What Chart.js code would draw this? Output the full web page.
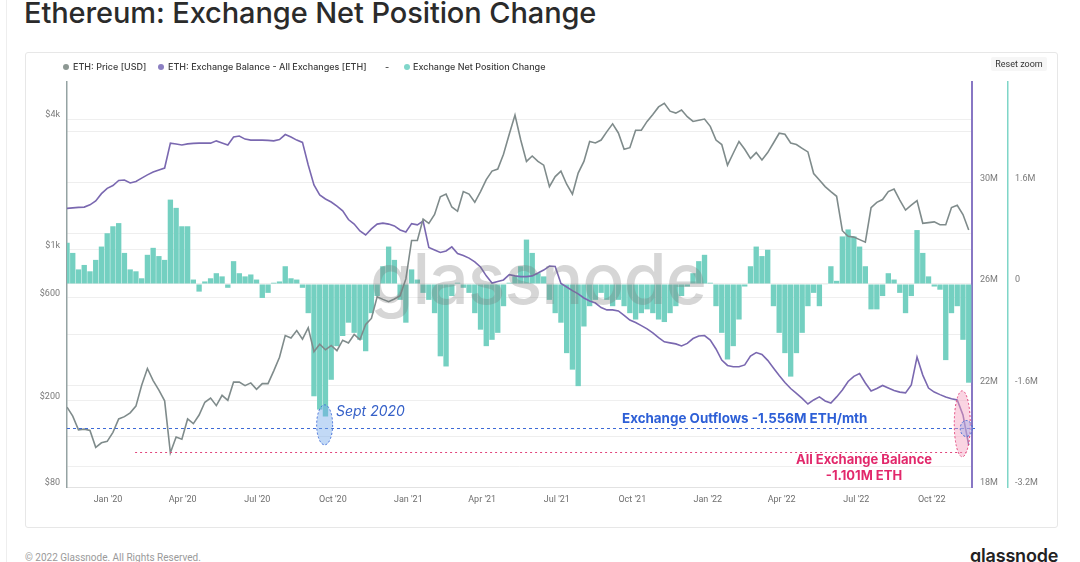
<!DOCTYPE html>
<html>
<head>
<meta charset="utf-8">
<script src="https://cdn.jsdelivr.net/npm/chart.js@4.4.0/dist/chart.umd.min.js"></script>
<style>
  html, body { margin:0; padding:0; background:#fff; width:1080px; height:562px; overflow:hidden; font-family: Inter, Roboto, "Noto Sans", sans-serif; }
  .abs { position:absolute; white-space:nowrap; }
  #pageLine { position:absolute; left:6px; top:0; width:1px; height:562px; background:#eeeeee; }
  #title { left:24px; top:-5px; font-size:29px; font-weight:500; color:#2b2b2b; letter-spacing:-0.1px; }
  #card { position:absolute; left:25px; top:52px; width:1031px; height:474px; border:1px solid #e7e7e7; border-radius:3px; box-sizing:content-box; }
  #chartWrap { position:absolute; left:25px; top:52px; width:1032px; height:475px; }
  .legText { font-size:9px; font-weight:500; color:#3d3d3d; line-height:12px; top:61px; }
  .dot { position:absolute; width:6px; height:6px; border-radius:50%; top:64px; }
  #reset { left:991px; top:57px; width:56px; height:14px; background:#f6f6f6; border-radius:2px; font-size:9px; color:#333; line-height:14px; text-align:center; font-family:Roboto, sans-serif; }
  #watermark { left:538px; top:234px; transform:translateX(-50%); font-size:70px; font-weight:500; color:rgba(120,120,120,0.3); letter-spacing:-1px; line-height:90px; pointer-events:none; }
  .ann { line-height:1; }
  #sept { left:336px; top:404px; font-size:14px; font-style:italic; color:#3560c8; }
  #outflow { left:622px; top:412px; font-size:13.4px; font-weight:700; color:#2d5fd6; }
  #bal1 { left:864px; top:453px; transform:translateX(-50%); font-size:13px; font-weight:700; color:#e2286b; }
  #bal2 { left:864px; top:469px; transform:translateX(-50%); font-size:13px; font-weight:700; color:#e2286b; }
  #footer { left:25px; top:552px; font-size:10px; color:#9a9a9a; font-family:Roboto, sans-serif; }
  #logo { left:970px; top:545px; font-size:18px; font-weight:600; color:#222; letter-spacing:-0.2px; }
</style>
</head>
<body>
<div id="pageLine"></div>
<div id="title" class="abs">Ethereum: Exchange Net Position Change</div>
<div id="card"></div>
<div id="chartWrap"><canvas id="c"></canvas></div>

<div class="dot" style="left:63px;background:#8d9893;"></div>
<div class="abs legText" style="left:73px;">ETH: Price [USD]</div>
<div class="dot" style="left:158px;background:#8b7fc2;"></div>
<div class="abs legText" style="left:168px;">ETH: Exchange Balance - All Exchanges [ETH]</div>
<div class="abs legText" style="left:385px;">-</div>
<div class="dot" style="left:404px;background:#80d6ca;"></div>
<div class="abs legText" style="left:413px;">Exchange Net Position Change</div>
<div id="reset" class="abs">Reset zoom</div>

<div id="watermark" class="abs">glassnode</div>
<div id="sept" class="abs ann">Sept 2020</div>
<div id="outflow" class="abs ann">Exchange Outflows -1.556M ETH/mth</div>
<div id="bal1" class="abs ann">All Exchange Balance</div>
<div id="bal2" class="abs ann">-1.101M ETH</div>

<div id="footer" class="abs">© 2022 Glassnode. All Rights Reserved.</div>
<div id="logo" class="abs">glassnode</div>

<script>
// ---------------- DATA (weekly, starting 2019-11-12) ----------------
const firstWeek = '2019-11-12';

const priceUSD = [
  187,170,147,148,146,122,128,130,
  143,165,169,176,189,236,282,248,224,200,115,136,133,165,157,172,197,206,190,212,201,244,244,235,242,226,
  240,240,275,318,400,390,422,385,435,337,365,344,360,341,381,370,405,383,450,480,604,588,574,590,611,731,
  1100,1100,1380,1320,1450,1750,1800,1570,1500,1850,1800,1650,1850,2100,2300,2350,2750,3400,4170,3200,2550,2700,2550,2450,1950,2170,
  2300,2000,1800,2250,2550,3150,3100,3200,3500,3800,3450,2900,2950,3550,3550,3900,4200,4550,4730,4350,4260,4400,4100,3900,3950,4000,
  3700,3200,3050,2450,2780,3150,2900,2630,2800,2590,2800,3100,3440,3400,3100,3050,2930,2820,2240,2090,1950,1850,1760,1220,1150,1140,
  1110,1080,1560,1650,1700,1850,1900,1690,1520,1600,1680,1320,1330,1340,1300,1300,1560,1600,1450,1230
];

const exchangeBalanceM = [
  28.98,29.00,29.02,29.03,29.12,29.27,29.56,29.77,29.88,30.08,30.10,29.98,30.04,30.17,30.30,30.41,30.49,30.57,
  31.55,31.52,31.48,31.52,31.54,31.55,31.55,31.55,31.64,31.56,31.48,31.79,31.83,31.71,31.67,31.67,31.67,31.66,31.64,31.69,31.89,31.79,31.67,31.58,
  30.69,29.90,29.51,29.35,29.23,29.07,28.88,28.54,28.36,28.09,27.93,28.17,28.36,28.40,28.36,28.29,28.13,28.05,28.38,28.33,28.48,
  27.44,27.34,27.24,27.30,27.46,27.20,27.12,27.02,26.87,26.67,26.32,26.04,26.10,26.16,26.37,26.32,26.29,26.29,26.32,26.43,26.55,26.71,26.69,
  26.02,25.88,25.74,25.61,25.45,25.33,25.25,25.07,24.98,24.98,24.94,24.76,24.58,24.48,24.36,24.23,24.07,23.89,23.72,23.68,23.64,23.56,23.66,23.85,23.95,23.97,
  23.79,23.44,23.00,22.79,22.74,22.74,22.81,23.16,23.30,23.22,22.99,22.69,22.39,22.12,21.88,21.69,21.49,21.27,21.43,21.55,21.39,21.31,21.55,21.82,
  22.16,22.36,22.47,22.10,21.78,21.88,22.00,21.90,21.80,21.74,21.71,22.02,23.12,22.41,21.90,21.74,21.64,21.55,21.48,21.43,20.84,19.65
];

const netPositionChangeM = [
  0.65,0.49,0.23,0.30,0.20,0.38,0.59,0.80,0.91,0.96,0.49,0.23,0.20,0.09,0.46,0.57,0.44,0.38,1.33,1.20,0.91,0.91,0.07,-0.12,0.04,0.09,
  0.17,0.12,-0.06,0.36,0.17,0.12,0.15,0.07,-0.22,-0.14,0.02,0.04,0.28,0.09,0.07,-0.06,-0.46,-1.77,-1.98,-2.09,-1.51,-0.98,-0.82,-0.61,-0.77,-0.88,-1.06,
  -0.46,-0.19,0.28,0.59,0.38,-0.25,-0.61,0.23,0.07,-0.14,-0.25,-0.46,-1.14,-1.30,-0.19,0.02,-0.06,-0.14,-0.46,-0.72,-0.98,-0.88,-0.77,-0.35,
  0.02,0.12,0.28,0.70,0.49,0.17,0.12,-0.25,-0.46,-0.61,-1.09,-1.35,-1.61,-0.67,-0.35,-0.25,-0.14,-0.25,-0.35,-0.25,-0.35,-0.46,-0.56,-0.46,-0.40,-0.46,-0.56,-0.60,
  -0.46,-0.35,-0.19,-0.04,0.17,0.36,0.46,0.02,-0.35,-0.77,-1.19,-0.98,-0.56,-0.04,0.28,0.59,0.44,0.54,-0.35,-0.77,-1.09,-1.46,-1.09,-0.77,-0.35,-0.14,
  -0.35,-0.01,0.28,0.05,0.75,0.86,0.75,0.59,0.28,-0.40,-0.40,-0.19,0.17,0.07,-0.14,-0.46,-0.19,0.85,0.49,0.12,-0.04,-0.09,-1.2,-0.46,-0.35,-0.88,-1.556
];

const xTickDates = ['2020-01-01','2020-04-01','2020-07-01','2020-10-01','2021-01-01','2021-04-01','2021-07-01','2021-10-01','2022-01-01','2022-04-01','2022-07-01','2022-10-01'];
const xTickLabels = ["Jan '20","Apr '20","Jul '20","Oct '20","Jan '21","Apr '21","Jul '21","Oct '21","Jan '22","Apr '22","Jul '22","Oct '22"];
const priceTicks = [80, 100, 200, 600, 1000, 4000];
const priceTickLabels = ['$80', '', '$200', '$600', '$1k', '$4k'];
const balanceTicks = [18, 22, 26, 30];
const balanceTickLabels = ['18M', '22M', '26M', '30M'];
const netTicks = [-3.2, -2.4, -1.6, -0.8, 0, 0.8, 1.6, 2.4];
const netTickLabels = ['-3.2M', '', '-1.6M', '', '0', '', '1.6M', ''];

// annotation anchors (data units)
const septDate = '2020-09-21', septLevel = -2.22;
const outflowLevel = -2.27;
const balanceLineStart = '2020-02-03', balanceLineLevel = -2.65;
const endDate = '2022-11-12', endLevel = -2.22;

// ---------------- BUILD ----------------
const DAY = 864e5;
const t0 = Date.parse(firstWeek);
const weeks = netPositionChangeM.map((_, i) => t0 + i * 7 * DAY);
const toXY = arr => arr.map((v, i) => ({ x: weeks[i], y: v }));

const tickFont = { family: 'Roboto', size: 9 };
const fixTicks = (vals) => (scale) => { scale.ticks = vals.map(v => ({ value: v })); };

const annot = {
  id: 'annot',
  afterDatasetsDraw(chart) {
    const { ctx, chartArea: a, scales } = chart;
    const x = scales.x, y = scales.yNet;
    ctx.save();
    ctx.lineWidth = 1;
    ctx.setLineDash([3, 3]);
    ctx.strokeStyle = '#3d6ad6';
    const yo = Math.round(y.getPixelForValue(outflowLevel)) + 0.5;
    ctx.beginPath(); ctx.moveTo(a.left, yo); ctx.lineTo(a.right + 3, yo); ctx.stroke();
    ctx.strokeStyle = '#e2457c';
    ctx.setLineDash([2, 3]);
    const yb = Math.round(y.getPixelForValue(balanceLineLevel)) + 0.5;
    ctx.beginPath(); ctx.moveTo(x.getPixelForValue(Date.parse(balanceLineStart)), yb); ctx.lineTo(a.right - 6, yb); ctx.stroke();
    const sx = x.getPixelForValue(Date.parse(septDate)), sy = y.getPixelForValue(septLevel);
    ctx.setLineDash([2, 2]);
    ctx.beginPath(); ctx.ellipse(sx, sy, 8, 20, 0, 0, Math.PI * 2);
    ctx.fillStyle = 'rgba(120,170,235,0.45)'; ctx.fill();
    ctx.strokeStyle = '#3d6ad6'; ctx.stroke();
    const ex = x.getPixelForValue(Date.parse(endDate)), ey = y.getPixelForValue(endLevel);
    ctx.beginPath(); ctx.ellipse(ex - 4, ey - 1, 8, 33, 0, 0, Math.PI * 2);
    ctx.fillStyle = 'rgba(245,160,190,0.45)'; ctx.fill();
    ctx.strokeStyle = '#e2457c'; ctx.stroke();
    ctx.beginPath(); ctx.ellipse(ex, yo, 6, 8, 0, 0, Math.PI * 2);
    ctx.fillStyle = 'rgba(150,170,235,0.4)'; ctx.fill();
    ctx.strokeStyle = '#3d6ad6'; ctx.stroke();
    ctx.restore();
  }
};

new Chart(document.getElementById('c'), {
  type: 'bar',
  data: {
    datasets: [
      { type: 'line', label: 'ETH: Price [USD]', data: toXY(priceUSD), yAxisID: 'yPrice',
        borderColor: '#7f8b8b', borderWidth: 1.6, pointRadius: 0, tension: 0, order: 1 },
      { type: 'line', label: 'ETH: Exchange Balance - All Exchanges [ETH]', data: toXY(exchangeBalanceM), yAxisID: 'yBal',
        borderColor: '#7a68b0', borderWidth: 1.6, pointRadius: 0, tension: 0, order: 2 },
      { type: 'bar', label: 'Exchange Net Position Change', data: toXY(netPositionChangeM), yAxisID: 'yNet',
        backgroundColor: '#74d0c1', borderWidth: 0, barPercentage: 0.93, categoryPercentage: 1, order: 3 }
    ]
  },
  options: {
    responsive: true, maintainAspectRatio: false, animation: false,
    events: [],
    layout: { padding: { top: 30, left: 0, right: 0, bottom: 0 } },
    plugins: { legend: { display: false }, tooltip: { enabled: false } },
    scales: {
      x: {
        type: 'linear', offset: false,
        min: Date.parse('2019-11-12'), max: Date.parse('2022-11-19'),
        afterBuildTicks: fixTicks(xTickDates.map(d => Date.parse(d))),
        afterFit: s => { s.height = 40; },
        grid: { display: true, drawOnChartArea: false, drawTicks: false },
        border: { display: true, color: '#e2e2e2', width: 1 },
        ticks: { autoSkip: false, maxRotation: 0, padding: 7, color: '#6e6e6e', font: tickFont,
                 callback: (v, i) => xTickLabels[i] }
      },
      yPrice: {
        type: 'logarithmic', position: 'left',
        min: 80, max: 5930,
        afterBuildTicks: fixTicks(priceTicks),
        afterFit: s => { s.width = 42; },
        grid: { color: '#efefef', drawTicks: false },
        border: { display: true, color: '#95a3a3', width: 1.5 },
        ticks: { autoSkip: false, padding: 7, labelOffset: -4, color: '#7a7a7a', font: tickFont,
                 callback: (v, i) => priceTickLabels[i] }
      },
      yBal: {
        type: 'linear', position: 'right', weight: 0,
        min: 18, max: 33.96,
        afterBuildTicks: fixTicks(balanceTicks),
        afterFit: s => { s.width = 36; },
        grid: { drawOnChartArea: false, drawTicks: false },
        border: { display: true, color: '#8877c4', width: 2 },
        ticks: { autoSkip: false, padding: 8, labelOffset: -4, color: '#7a7a7a', font: tickFont,
                 callback: (v, i) => balanceTickLabels[i] }
      },
      yNet: {
        type: 'linear', position: 'right', weight: 1,
        min: -3.2, max: 3.184,
        afterBuildTicks: fixTicks(netTicks),
        afterFit: s => { s.width = 49; },
        grid: { color: '#eeeeee', drawTicks: false },
        border: { display: true, color: '#7fd6c8', width: 1.5 },
        ticks: { autoSkip: false, padding: 7, labelOffset: -4, color: '#7a7a7a', font: tickFont,
                 callback: (v, i) => netTickLabels[i] }
      }
    }
  },
  plugins: [annot]
});
</script>
</body>
</html>
